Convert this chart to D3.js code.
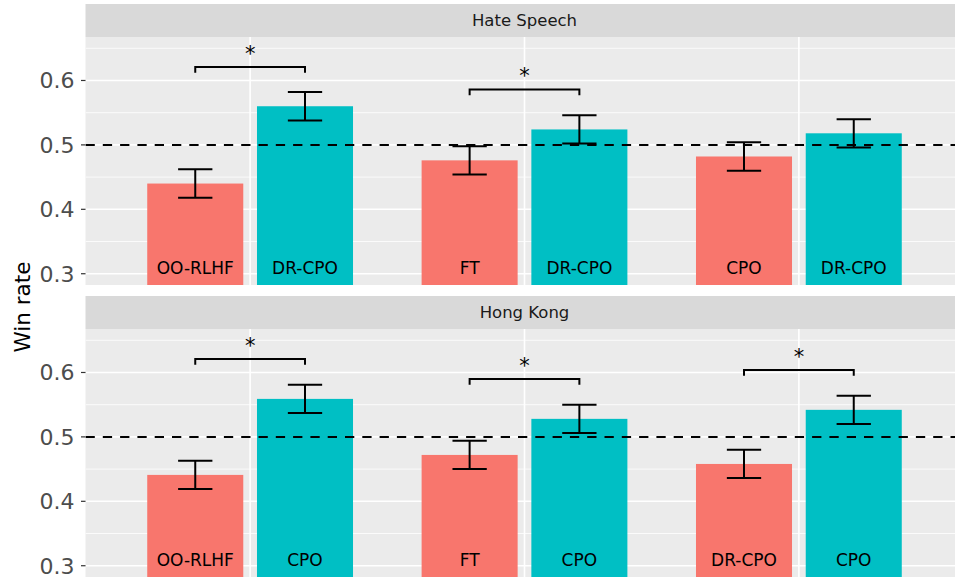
<!DOCTYPE html>
<html>
<head>
<meta charset="utf-8">
<script src="https://cdn.jsdelivr.net/npm/d3@7"></script>
<style>
    body { margin: 0; background: white; }
    svg { display: block; font-family: "DejaVu Sans", sans-serif; }
</style>
</head>
<body>
<svg id="vis"></svg>
<script>
// facet titles, top to bottom
const PANELS = ["Hate Speech", "Hong Kong"];

// comparison groups (x positions 1..3)
const GROUPS = [1, 2, 3];

// Hate Speech: baseline (red) vs ours (teal)
const HS_BASE_LABELS = ["OO-RLHF", "FT", "CPO"];
const HS_OURS_LABELS = ["DR-CPO", "DR-CPO", "DR-CPO"];
const HS_BASE_RATE = [0.440, 0.476, 0.482];
const HS_OURS_RATE = [0.560, 0.524, 0.518];
const HS_ERR = [0.022, 0.022, 0.022];
const HS_SIG_Y = [0.621, 0.586, null];   // bracket heights, null = not significant

// Hong Kong
const HK_BASE_LABELS = ["OO-RLHF", "FT", "DR-CPO"];
const HK_OURS_LABELS = ["CPO", "CPO", "CPO"];
const HK_BASE_RATE = [0.441, 0.472, 0.458];
const HK_OURS_RATE = [0.559, 0.528, 0.542];
const HK_ERR = [0.022, 0.022, 0.022];
const HK_SIG_Y = [0.621, 0.590, 0.604];

const Y_TICKS = [0.3, 0.4, 0.5, 0.6];
const Y_MINOR = [0.35, 0.45, 0.55, 0.65];

const WIDTH = 955;
const HEIGHT = 578;
const LEFT = 85.5;
const RIGHT = 963.5;      // panel runs past the right edge of the picture
const STRIP_H = 33;
const PANEL_TOPS = [4, 296];
const PANEL_H = 248;

const RED = "#F8766D";
const TEAL = "#00BFC4";

window.onload = function(){
    let svg = d3.select("#vis")
        .attr("width", WIDTH)
        .attr("height", HEIGHT);

    let xScale = d3.scaleLinear()
        .domain([0.4, 3.6])
        .range([LEFT, RIGHT]);

    let unit = xScale(1) - xScale(0);

    let data = [
        { base: HS_BASE_LABELS, ours: HS_OURS_LABELS, baseRate: HS_BASE_RATE, oursRate: HS_OURS_RATE, err: HS_ERR, sig: HS_SIG_Y },
        { base: HK_BASE_LABELS, ours: HK_OURS_LABELS, baseRate: HK_BASE_RATE, oursRate: HK_OURS_RATE, err: HK_ERR, sig: HK_SIG_Y }
    ];

    PANELS.forEach(function(title, p){
        let top = PANEL_TOPS[p] + STRIP_H;
        let d = data[p];

        // limits 0.3..0.65 with ggplot's 5% expansion
        let yScale = d3.scaleLinear()
            .domain([0.2825, 0.6675])
            .range([top + PANEL_H, top]);

        let g = svg.append("g");

        // strip
        g.append("rect")
            .attr("x", LEFT).attr("y", PANEL_TOPS[p])
            .attr("width", RIGHT - LEFT).attr("height", STRIP_H)
            .attr("fill", "#D9D9D9");
        g.append("text")
            .attr("x", 524.5)
            .attr("y", PANEL_TOPS[p] + STRIP_H / 2)
            .attr("dy", "0.35em")
            .attr("text-anchor", "middle")
            .attr("font-size", "16.5px")
            .attr("fill", "#1A1A1A")
            .text(title);

        // panel background
        g.append("rect")
            .attr("x", LEFT).attr("y", top)
            .attr("width", RIGHT - LEFT).attr("height", PANEL_H)
            .attr("fill", "#EBEBEB");

        let clipId = "clip" + p;
        g.append("clipPath").attr("id", clipId)
            .append("rect")
            .attr("x", LEFT).attr("y", top)
            .attr("width", RIGHT - LEFT).attr("height", PANEL_H);

        let inner = g.append("g").attr("clip-path", "url(#" + clipId + ")");

        // grid
        inner.selectAll(".minor")
            .data(Y_MINOR)
            .enter()
            .append("line")
            .attr("x1", LEFT).attr("x2", RIGHT)
            .attr("y1", function(v){ return yScale(v); })
            .attr("y2", function(v){ return yScale(v); })
            .attr("stroke", "white").attr("stroke-width", 0.8);

        inner.selectAll(".major")
            .data(Y_TICKS)
            .enter()
            .append("line")
            .attr("x1", LEFT).attr("x2", RIGHT)
            .attr("y1", function(v){ return yScale(v); })
            .attr("y2", function(v){ return yScale(v); })
            .attr("stroke", "white").attr("stroke-width", 1.6);

        inner.selectAll(".vgrid")
            .data(GROUPS)
            .enter()
            .append("line")
            .attr("x1", function(k){ return xScale(k); })
            .attr("x2", function(k){ return xScale(k); })
            .attr("y1", top).attr("y2", top + PANEL_H)
            .attr("stroke", "white").attr("stroke-width", 1.6);

        // one row per bar: dodge 0.8, bar width 0.35
        let bars = [];
        GROUPS.forEach(function(k, i){
            bars.push({ x: k - 0.2, v: d.baseRate[i], e: d.err[i], label: d.base[i], fill: RED });
            bars.push({ x: k + 0.2, v: d.oursRate[i], e: d.err[i], label: d.ours[i], fill: TEAL });
        });

        inner.selectAll(".bar")
            .data(bars)
            .enter()
            .append("rect")
            .attr("x", function(b){ return xScale(b.x - 0.175); })
            .attr("width", 0.35 * unit)
            .attr("y", function(b){ return yScale(b.v); })
            .attr("height", function(b){ return yScale(0) - yScale(b.v); })
            .attr("fill", function(b){ return b.fill; });

        // reference line at 0.5
        inner.append("line")
            .attr("x1", LEFT).attr("x2", RIGHT)
            .attr("y1", yScale(0.5)).attr("y2", yScale(0.5))
            .attr("stroke", "black")
            .attr("stroke-width", 2)
            .attr("stroke-dasharray", "9.3,8");

        // error bars
        let eb = inner.selectAll(".err")
            .data(bars)
            .enter()
            .append("g")
            .attr("stroke", "black")
            .attr("stroke-width", 2);
        eb.append("line")
            .attr("x1", function(b){ return xScale(b.x); })
            .attr("x2", function(b){ return xScale(b.x); })
            .attr("y1", function(b){ return yScale(b.v + b.e); })
            .attr("y2", function(b){ return yScale(b.v - b.e); });
        eb.append("line")
            .attr("x1", function(b){ return xScale(b.x - 0.0625); })
            .attr("x2", function(b){ return xScale(b.x + 0.0625); })
            .attr("y1", function(b){ return yScale(b.v + b.e); })
            .attr("y2", function(b){ return yScale(b.v + b.e); });
        eb.append("line")
            .attr("x1", function(b){ return xScale(b.x - 0.0625); })
            .attr("x2", function(b){ return xScale(b.x + 0.0625); })
            .attr("y1", function(b){ return yScale(b.v - b.e); })
            .attr("y2", function(b){ return yScale(b.v - b.e); });

        // method names at the foot of each bar
        inner.selectAll(".lab")
            .data(bars)
            .enter()
            .append("text")
            .attr("x", function(b){ return xScale(b.x); })
            .attr("y", yScale(0.3))
            .attr("text-anchor", "middle")
            .attr("font-size", "17px")
            .attr("fill", "black")
            .text(function(b){ return b.label; });

        // significance brackets
        let sig = GROUPS.map(function(k, i){ return { k: k, y: d.sig[i] }; })
            .filter(function(s){ return s.y !== null; });

        inner.selectAll(".bracket")
            .data(sig)
            .enter()
            .append("path")
            .attr("d", function(s){
                let y0 = yScale(s.y), y1 = yScale(s.y - 0.009);
                return "M" + xScale(s.k - 0.2) + "," + y1 +
                    "V" + y0 + "H" + xScale(s.k + 0.2) + "V" + y1;
            })
            .attr("fill", "none")
            .attr("stroke", "black")
            .attr("stroke-width", 2);

        inner.selectAll(".star")
            .data(sig)
            .enter()
            .append("text")
            .attr("x", function(s){ return xScale(s.k); })
            .attr("y", function(s){ return yScale(s.y) - 6; })
            .attr("text-anchor", "middle")
            .attr("font-size", "21px")
            .attr("fill", "black")
            .text("*");

        // y axis
        let ax = g.selectAll(".ytick")
            .data(Y_TICKS)
            .enter()
            .append("g");
        ax.append("line")
            .attr("x1", LEFT - 4.5).attr("x2", LEFT)
            .attr("y1", function(v){ return yScale(v); })
            .attr("y2", function(v){ return yScale(v); })
            .attr("stroke", "#333333").attr("stroke-width", 1.2);
        ax.append("text")
            .attr("x", LEFT - 11)
            .attr("y", function(v){ return yScale(v); })
            .attr("dy", "0.36em")
            .attr("text-anchor", "end")
            .attr("font-size", "22px")
            .attr("fill", "#4D4D4D")
            .text(function(v){ return d3.format(".1f")(v); });
    });

    // shared y title
    let midY = (PANEL_TOPS[0] + STRIP_H + PANEL_TOPS[1] + STRIP_H + PANEL_H) / 2;
    svg.append("text")
        .attr("transform", "translate(22," + midY + ") rotate(-90)")
        .attr("dy", "0.35em")
        .attr("text-anchor", "middle")
        .attr("font-size", "21.5px")
        .attr("fill", "black")
        .text("Win rate");
};
</script>
</body>
</html>
